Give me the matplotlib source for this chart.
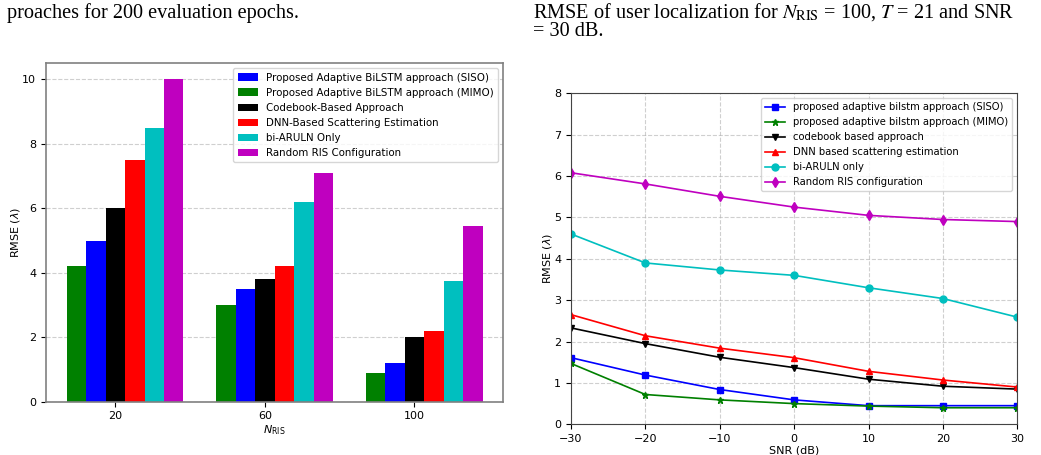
import numpy as np
import matplotlib
matplotlib.use("Agg")
import matplotlib.pyplot as plt

plt.rcParams['mathtext.fontset'] = 'dejavusans'

# --- left chart data (bar chart) ---
n_ris = ['20', '60', '100']
siso_bar = [5.0, 3.5, 1.2]
mimo_bar = [4.2, 3.0, 0.9]
codebook_bar = [6.0, 3.8, 2.0]
dnn_bar = [7.5, 4.2, 2.2]
biaruln_bar = [8.5, 6.2, 3.75]
random_bar = [10.0, 7.1, 5.45]

# --- right chart data (line chart) ---
snr = [-30, -20, -10, 0, 10, 20, 30]
siso_line = [1.61, 1.19, 0.84, 0.59, 0.45, 0.45, 0.45]
mimo_line = [1.47, 0.72, 0.59, 0.50, 0.44, 0.40, 0.40]
codebook_line = [2.33, 1.95, 1.62, 1.37, 1.09, 0.92, 0.85]
dnn_line = [2.65, 2.14, 1.84, 1.61, 1.28, 1.07, 0.90]
biaruln_line = [4.60, 3.90, 3.73, 3.60, 3.30, 3.04, 2.59]
random_line = [6.08, 5.81, 5.51, 5.25, 5.05, 4.95, 4.90]

fig = plt.figure(figsize=(10.41, 4.55), dpi=100)

# page text fragments above the figures
fig.text(7 / 1041, 1 - 13 / 455, "proaches for 200 evaluation epochs.",
         family='Liberation Serif', fontsize=14.6, va='center', ha='left')
fig.text(533 / 1041, 1 - 12 / 455,
         r"RMSE of user localization for $N_{\mathrm{RIS}}$ = 100, $T$ = 21 and SNR",
         family='Liberation Serif', fontsize=14.6, va='center', ha='left',
         math_fontfamily='stix')
fig.text(533 / 1041, 1 - 31 / 455, "= 30 dB.",
         family='Liberation Serif', fontsize=14.6, va='center', ha='left')

# ---------------- bar chart ----------------
ax1 = fig.add_axes([0.0442, 0.1171, 0.4393, 0.7438])
x = np.arange(len(n_ris))
w = 0.13
ax1.bar(x - w, siso_bar, w, color='b', label='Proposed Adaptive BiLSTM approach (SISO)')
ax1.bar(x - 2 * w, mimo_bar, w, color='g', label='Proposed Adaptive BiLSTM approach (MIMO)')
ax1.bar(x, codebook_bar, w, color='k', label='Codebook-Based Approach')
ax1.bar(x + w, dnn_bar, w, color='r', label='DNN-Based Scattering Estimation')
ax1.bar(x + 2 * w, biaruln_bar, w, color='c', label='bi-ARULN Only')
ax1.bar(x + 3 * w, random_bar, w, color='m', label='Random RIS Configuration')
ax1.set_xticks(x)
ax1.set_xticklabels(n_ris)
ax1.set_yticks([0, 2, 4, 6, 8, 10])
ax1.set_xlabel(r'$N_{\mathrm{RIS}}$', fontsize=8, labelpad=1)
ax1.set_ylabel(r'RMSE ($\lambda$)', fontsize=8, labelpad=0)
ax1.tick_params(labelsize=8)
ax1.grid(axis='y', linestyle='--', alpha=0.6)
ax1.set_axisbelow(True)
for s in ax1.spines.values():
    s.set_color('gray')
    s.set_linewidth(1.2)
ax1.legend(loc='upper right', fontsize=7.4)

# ---------------- line chart ----------------
ax2 = fig.add_axes([0.5485, 0.0675, 0.4287, 0.7274])
ax2.plot(snr, siso_line, 'b-s', markersize=5, lw=1.2, label='proposed adaptive bilstm approach (SISO)')
ax2.plot(snr, mimo_line, 'g-*', markersize=5, lw=1.2, label='proposed adaptive bilstm approach (MIMO)')
ax2.plot(snr, codebook_line, 'k-v', markersize=5, lw=1.2, label='codebook based approach')
ax2.plot(snr, dnn_line, 'r-^', markersize=5, lw=1.2, label='DNN based scattering estimation')
ax2.plot(snr, biaruln_line, 'c-o', markersize=5, lw=1.2, label='bi-ARULN only')
ax2.plot(snr, random_line, 'm-d', markersize=5, lw=1.2, label='Random RIS configuration')
ax2.set_xlim(-30, 30)
ax2.set_ylim(0, 8)
ax2.set_xticks(snr)
ax2.set_xlabel('SNR (dB)', fontsize=8, labelpad=1)
ax2.set_ylabel(r'RMSE ($\lambda$)', fontsize=8, labelpad=0)
ax2.tick_params(labelsize=8)
ax2.grid(True, linestyle='--', alpha=0.6)
for s in ax2.spines.values():
    s.set_color('#444444')
ax2.legend(loc='upper right', fontsize=7.2)

fig.savefig('out.png', dpi=100)
